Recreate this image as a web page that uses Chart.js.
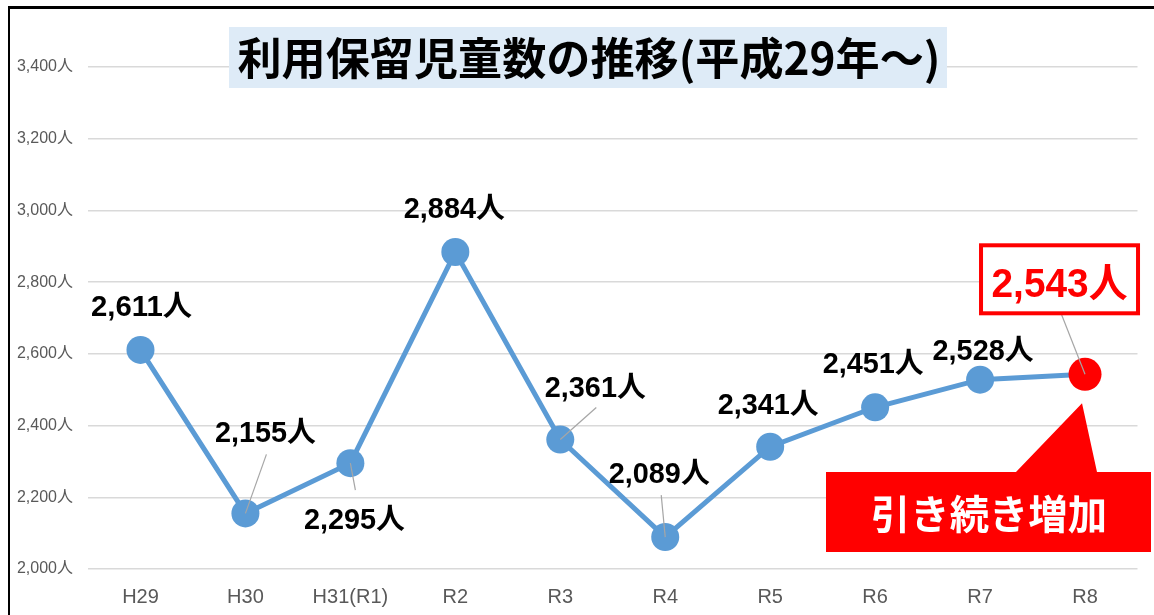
<!DOCTYPE html>
<html>
<head>
<meta charset="utf-8">
<script src="https://cdn.jsdelivr.net/npm/chart.js@4"></script>
<style>
  html, body { margin: 0; padding: 0; background: #ffffff; }
  #c { display: block; }
</style>
</head>
<body>
<canvas id="c" width="1154" height="615"></canvas>
<script>
// ---- data ----
const categories = ['H29', 'H30', 'H31(R1)', 'R2', 'R3', 'R4', 'R5', 'R6', 'R7', 'R8'];
const children = [2611, 2155, 2295, 2884, 2361, 2089, 2341, 2451, 2528, 2543];
const yTicks = [2000, 2200, 2400, 2600, 2800, 3000, 3200, 3400];
const titleText = '利用保留児童数の推移(平成29年～)';
const calloutText = '引き続き増加';
const unit = '人';

// ---- label placement (style) : [dx, dyBaseline] from the point ----
const labelOffsets = [[1, -34], [20, -71], [4, 66], [-1, -34], [35, -43], [-6, -54], [-2, -33], [-2, -34], [3, -20], null];
// leader lines: [dx, dy] of the far end from the point (null = none)
const leaders = [null, [21, -59], [5, 27], null, [36, -32], [-4, -42], null, null, null, [-24, -61]];

const fmt = v => v.toLocaleString('en-US') + unit;
const LATIN = '"Liberation Sans", Arial, "Noto Sans CJK JP", sans-serif';
const CJK = '"Noto Sans CJK JP", "Noto Sans CJK SC", sans-serif';

function fitText(ctx, text, cx, y, font, targetW, color, baseline) {
  ctx.save();
  ctx.font = font;
  ctx.fillStyle = color;
  ctx.textAlign = 'center';
  ctx.textBaseline = baseline || 'alphabetic';
  const w = ctx.measureText(text).width;
  ctx.translate(cx, y);
  if (targetW) ctx.scale(targetW / w, 1);
  ctx.fillText(text, 0, 0);
  ctx.restore();
}

const decor = {
  id: 'decor',
  beforeDraw(chart) {
    const ctx = chart.ctx;
    ctx.save();
    ctx.fillStyle = '#ffffff';
    ctx.fillRect(0, 0, chart.width, chart.height);
    ctx.restore();
  },
  afterDatasetsDraw(chart) {
    const ctx = chart.ctx;
    const meta = chart.getDatasetMeta(0);
    const pts = meta.data;

    // leader lines
    ctx.save();
    ctx.strokeStyle = '#A6A6A6';
    ctx.lineWidth = 1.2;
    leaders.forEach((l, i) => {
      if (!l) return;
      const p = pts[i];
      ctx.beginPath();
      ctx.moveTo(p.x, p.y);
      ctx.lineTo(p.x + l[0], p.y + l[1]);
      ctx.stroke();
    });
    ctx.restore();

    // data labels
    children.forEach((v, i) => {
      const o = labelOffsets[i];
      if (!o) return;
      const p = pts[i];
      fitText(ctx, fmt(v), p.x + o[0], p.y + o[1], 'bold 29px ' + LATIN, 101, '#000000');
    });

    // highlighted last value
    const last = pts[pts.length - 1];
    const bx = last.x - 104, by = last.y - 129, bw = 157, bh = 68;
    ctx.save();
    ctx.fillStyle = '#ffffff';
    ctx.fillRect(bx, by, bw, bh);
    ctx.strokeStyle = '#FF0000';
    ctx.lineWidth = 4;
    ctx.strokeRect(bx, by, bw, bh);
    ctx.restore();
    fitText(ctx, fmt(children[children.length - 1]), bx + bw / 2, by + 52, 'bold 40px ' + LATIN, 136, '#FF0000');

    // callout
    ctx.save();
    ctx.fillStyle = '#FF0000';
    ctx.beginPath();
    ctx.moveTo(826, 472);
    ctx.lineTo(1016, 472);
    ctx.lineTo(last.x - 3, last.y + 29);
    ctx.lineTo(1097, 472);
    ctx.lineTo(1151, 472);
    ctx.lineTo(1151, 552);
    ctx.lineTo(826, 552);
    ctx.closePath();
    ctx.fill();
    ctx.restore();
    fitText(ctx, calloutText, 989, 514, 'bold 40px ' + CJK, 236, '#ffffff', 'middle');

    // title
    ctx.save();
    ctx.fillStyle = '#DEEBF7';
    ctx.fillRect(229, 27, 718, 61);
    ctx.restore();
    fitText(ctx, titleText, 589, 58, 'bold 44px ' + CJK, 703, '#000000', 'middle');

    // frame lines
    ctx.save();
    ctx.fillStyle = '#000000';
    ctx.fillRect(8, 6, chart.width - 8, 3);
    ctx.fillRect(8, 6, 2, chart.height - 6);
    ctx.restore();
  }
};

new Chart(document.getElementById('c'), {
  type: 'line',
  data: {
    labels: categories,
    datasets: [{
      data: children,
      borderColor: '#5B9BD5',
      borderWidth: 5,
      pointRadius: children.map((v, i) => i === children.length - 1 ? 16.5 : 14),
      pointHoverRadius: 14,
      pointBorderWidth: 0,
      pointBackgroundColor: children.map((v, i) => i === children.length - 1 ? '#FF0000' : '#5B9BD5'),
      tension: 0,
      clip: false
    }]
  },
  options: {
    responsive: false,
    animation: false,
    devicePixelRatio: 1,
    events: [],
    layout: { padding: { left: 10, right: 7, top: 67, bottom: 0 } },
    plugins: { legend: { display: false }, tooltip: { enabled: false }, title: { display: false } },
    scales: {
      x: {
        offset: true,
        grid: { display: false, drawTicks: false },
        border: { display: false },
        ticks: { color: '#595959', font: { family: LATIN, size: 20 }, padding: 16, maxRotation: 0, autoSkip: false },
        afterFit: s => { s.height = 46; }
      },
      y: {
        min: yTicks[0],
        max: yTicks[yTicks.length - 1],
        afterBuildTicks: s => { s.ticks = yTicks.map(v => ({ value: v })); },
        grid: { color: '#D9D9D9', lineWidth: 1.5, drawTicks: false },
        border: { display: false },
        ticks: { color: '#595959', font: { family: LATIN, size: 16 }, padding: 15, callback: v => fmt(v) },
        afterFit: s => { s.width = 78; }
      }
    }
  },
  plugins: [decor]
});
</script>
</body>
</html>
